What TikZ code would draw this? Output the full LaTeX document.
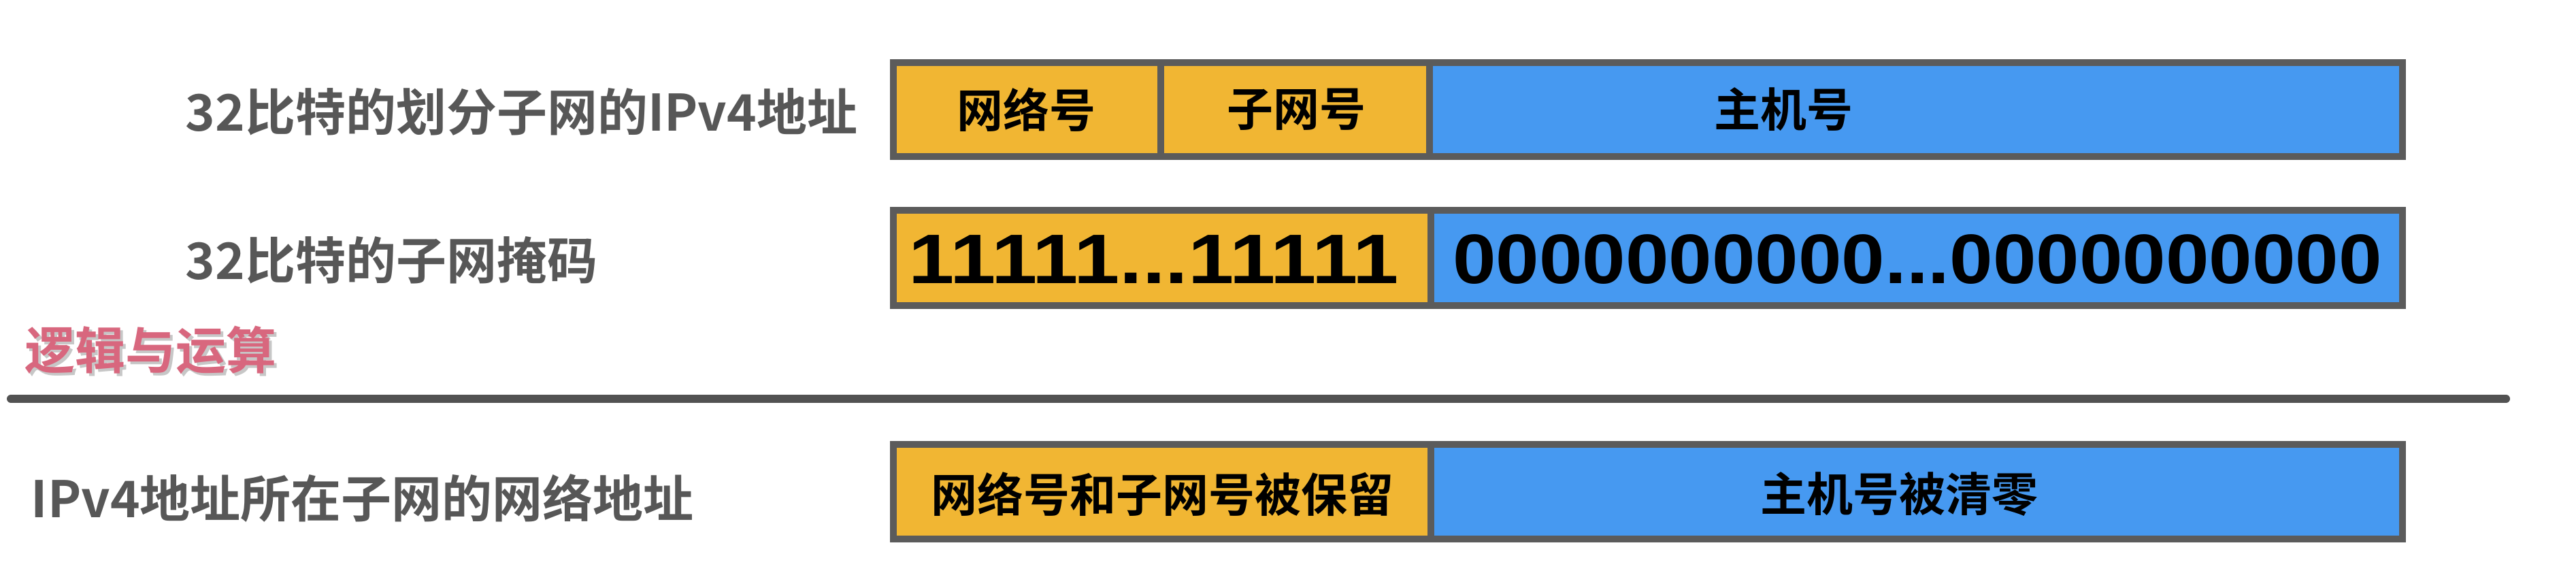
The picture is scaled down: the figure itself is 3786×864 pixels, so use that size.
\documentclass[tikz,border=0pt]{standalone}
\usepackage{fontspec}
\setmainfont{Liberation Sans}
\newfontfamily\cjk{Noto Sans CJK SC}[BoldFont={* Bold}]
\newfontfamily\digitfont{Liberation Sans}
\definecolor{borderc}{HTML}{5B5B5B}
\definecolor{orangec}{HTML}{F1B633}
\definecolor{bluec}{HTML}{4699F1}
\definecolor{labelc}{HTML}{575757}
\definecolor{pinkc}{HTML}{D8677E}
\definecolor{linec}{HTML}{525252}
\tikzset{
  cell/.style={draw=borderc, line width=2.5pt},
  orangecell/.style={cell, fill=orangec},
  bluecell/.style={cell, fill=bluec},
  rowlabel/.style={anchor=west, inner sep=0pt, text=labelc, font=\cjk\bfseries\fontsize{18.5pt}{20pt}\selectfont},
  celltext/.style={inner sep=0pt, text=black, font=\cjk\bfseries\fontsize{17pt}{19pt}\selectfont},
  bittext/.style={inner sep=0pt, text=black, font=\digitfont\bfseries\fontsize{28pt}{30pt}\selectfont},
  optext/.style={anchor=west, inner sep=0pt, text=pinkc, font=\cjk\bfseries\fontsize{18.5pt}{20pt}\selectfont},
}
\begin{document}
\begin{tikzpicture}[x=0.25pt, y=-0.25pt]
\useasboundingbox[fill=white] (0,0) rectangle (3786,864);

% Row 1: 32-bit subnetted IPv4 address
\draw[orangecell] (1313,92) rectangle (1706,230);
\draw[orangecell] (1706,92) rectangle (2101,230);
\draw[bluecell] (2101,92) rectangle (3531,230);
\node[celltext] (net1) at (1508,161) {网络号};
\node[celltext] (sub1) at (1905,161) {子网号};
\node[celltext] (host1) at (2621,161) {主机号};
\node[rowlabel] (lab1) at (272,164) {32比特的划分子网的IPv4地址};

% Row 2: subnet mask
\draw[orangecell] (1313,309) rectangle (2103,449);
\draw[bluecell] (2103,309) rectangle (3531,449);
\node[bittext] (ones) at (1696,381) {\scalebox{1.08}[0.92]{11111...11111}};
\node[bittext] (zeros) at (2818,381) {\scalebox{1.02}[0.92]{0000000000...0000000000}};
\node[rowlabel] (lab2) at (272,382) {32比特的子网掩码};

% operation label
\node[optext, text=black!22] (opshadow) at (40,518) {逻辑与运算};
\node[optext] (op) at (36,514) {逻辑与运算};

% separator
\coordinate (sepL) at (16,586);
\coordinate (sepR) at (3683,586);
\draw[linec, line width=3pt, line cap=round] (sepL) -- (sepR);

% Row 3: network address
\draw[orangecell] (1313,653) rectangle (2103,792);
\draw[bluecell] (2103,653) rectangle (3531,792);
\node[celltext] (keep) at (1708,726) {网络号和子网号被保留};
\node[celltext] (zero) at (2791,726) {主机号被清零};
\node[rowlabel] (lab3) at (45,732) {IPv4地址所在子网的网络地址};
\end{tikzpicture}
\end{document}
